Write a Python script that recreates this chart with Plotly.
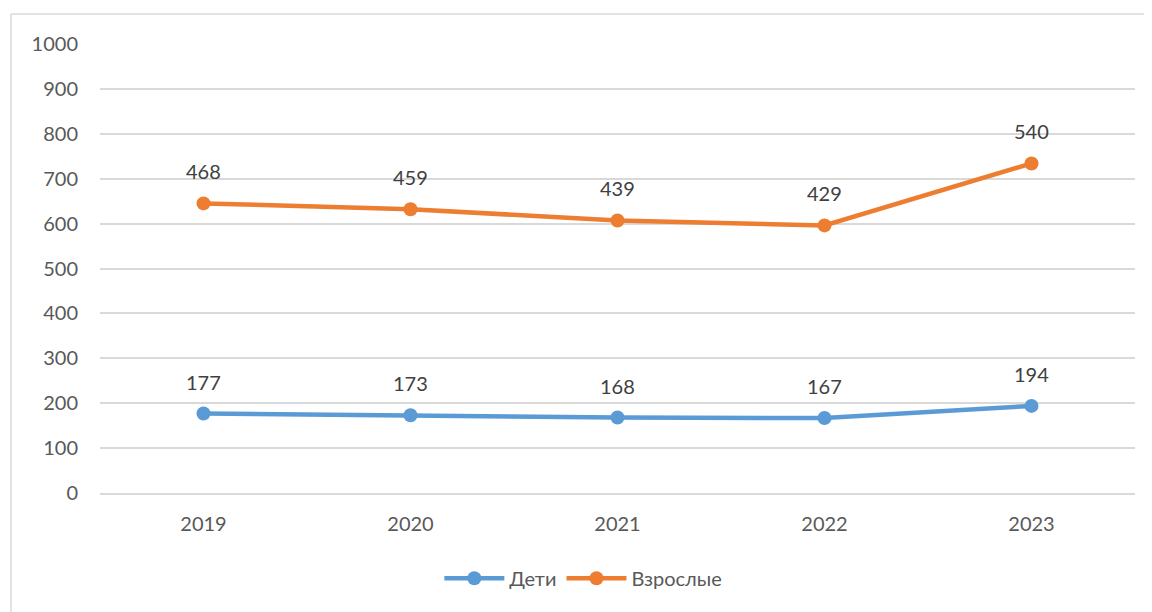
import plotly.graph_objects as go

years = ["2019", "2020", "2021", "2022", "2023"]
children = [177, 173, 168, 167, 194]
adults = [468, 459, 439, 429, 540]
y_ticks = [0, 100, 200, 300, 400, 500, 600, 700, 800, 900, 1000]

# stacked line chart: adults plotted on top of children
adults_stacked = [c + a for c, a in zip(children, adults)]

BLUE = "#5B9BD5"
ORANGE = "#ED7D31"
TXT = "#595959"
FONT = "Lato, 'Noto Sans', sans-serif"
FS = 20

fig = go.Figure()
fig.add_trace(go.Scatter(x=years, y=children, name="Дети", mode="lines+markers",
                         line=dict(color=BLUE, width=4.5), marker=dict(size=14, color=BLUE)))
fig.add_trace(go.Scatter(x=years, y=adults_stacked, name="Взрослые", mode="lines+markers",
                         line=dict(color=ORANGE, width=4.5), marker=dict(size=14, color=ORANGE)))

annotations = []
for i, (c, s) in enumerate(zip(children, children)):
    annotations.append(dict(x=i, y=s, text=str(c), showarrow=False, yshift=32,
                            font=dict(size=FS, color="#404040", family=FONT)))
for i, (a, s) in enumerate(zip(adults, adults_stacked)):
    annotations.append(dict(x=i, y=s, text=str(a), showarrow=False, yshift=32,
                            font=dict(size=FS, color="#404040", family=FONT)))

# page body has an 8px margin, so the figure is slightly smaller and offset
OFF = 8
W, H = 1152 - OFF, 612 - OFF
L, R, T, B = 100 - OFF, 17, 44 - OFF, 119
pw, ph = W - L - R, H - T - B
x0 = (11 - 100) / pw
x1 = (W - L) / pw
y1 = 1 + (44 - 14) / ph
y0 = -B / ph

shapes = [
    dict(type="line", xref="paper", yref="paper", x0=x0, x1=x1, y0=y1, y1=y1,
         line=dict(color="#D9D9D9", width=1.5)),
    dict(type="line", xref="paper", yref="paper", x0=x0, x1=x0, y0=y0, y1=y1,
         line=dict(color="#D9D9D9", width=1.5)),
]

fig.update_layout(
    width=W, height=H,
    margin=dict(l=L, r=R, t=T, b=B),
    paper_bgcolor="white", plot_bgcolor="white",
    font=dict(family=FONT, size=FS, color=TXT),
    showlegend=True,
    legend=dict(orientation="h", x=0.467, xanchor="center", y=-0.19, yanchor="middle",
                font=dict(size=FS, color=TXT, family=FONT), itemwidth=60,
                traceorder="normal"),
    annotations=annotations,
    shapes=shapes,
)
fig.update_xaxes(type="category", range=[-0.5, 4.5], showgrid=False, showline=True,
                 linecolor="#D9D9D9", linewidth=1.5, ticks="", ticklabelstandoff=12,
                 tickfont=dict(size=FS, color=TXT))
fig.update_yaxes(range=[0, 1000], tickvals=y_ticks, showgrid=True, gridcolor="#D9D9D9",
                 gridwidth=1.5, zeroline=False, showline=False, ticks="",
                 ticklabelstandoff=21, tickfont=dict(size=FS, color=TXT))

fig.write_html("out.html")
